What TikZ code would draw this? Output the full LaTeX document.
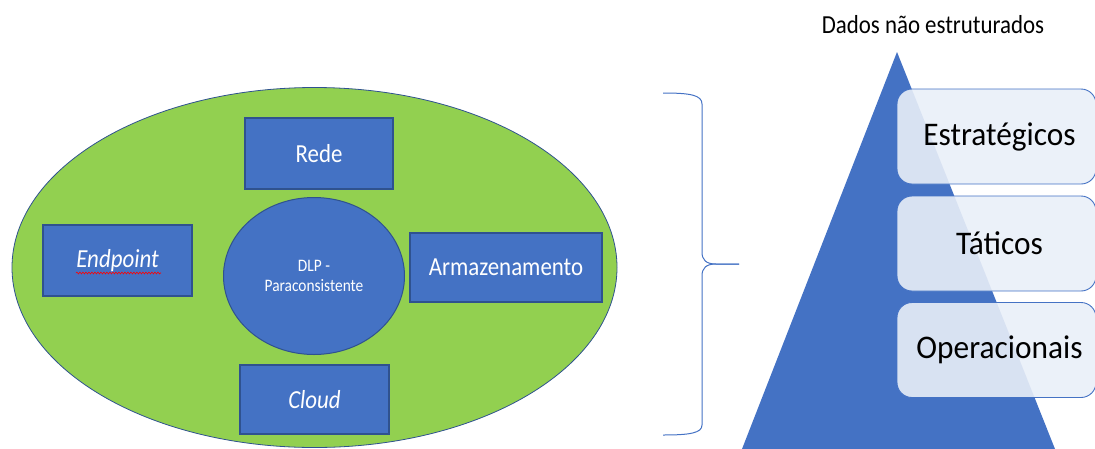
\documentclass[tikz,border=0pt]{standalone}
\usepackage{fontspec}
\setmainfont[FakeStretch=0.88]{Carlito}
\newfontfamily\tierfont[FakeStretch=0.95]{Carlito}
\usetikzlibrary{shapes.geometric,decorations.pathmorphing}
\definecolor{ablue}{HTML}{4472C4}
\definecolor{dblue}{HTML}{2F528F}
\definecolor{agreen}{HTML}{92D050}
\definecolor{lblue}{HTML}{E9EFF8}
\begin{document}
\begin{tikzpicture}[x=1pt,y=-1pt,
  bluebox/.style={draw=dblue, line width=1.3pt, fill=ablue, text=white,
    font=\fontsize{26}{30}\selectfont, inner sep=0pt, anchor=center},
  tierbox/.style={draw=ablue, line width=0.9pt, fill=lblue, fill opacity=0.9,
    text opacity=1, rounded corners=15pt, minimum width=199pt, minimum height=95pt,
    font=\tierfont\fontsize{33}{38}\selectfont, inner sep=0pt},
  bracestyle/.style={draw=ablue, line width=1pt}
]
\useasboundingbox (0,0) rectangle (1095,448);

% outer ellipse
\node[ellipse, draw=dblue, line width=0.8pt, fill=agreen,
  minimum width=605pt, minimum height=360pt] (outer) at (314.5,267.5) {};

% boxes
\node[bluebox, minimum width=148pt, minimum height=71pt] (rede) at (319,153.5) {Rede};
\node[bluebox, minimum width=149pt, minimum height=71pt] (endp) at (117.5,260.5) {\itshape Endpoint};
\node[bluebox, minimum width=192pt, minimum height=69pt] (arm) at (506,267.5) {Armazenamento};
\node[bluebox, minimum width=149pt, minimum height=69pt] (cloud) at (314.5,399.5) {\itshape Cloud};

% centre circle
\node[ellipse, draw=dblue, line width=1pt, fill=ablue, text=white, align=center,
  minimum width=181pt, minimum height=157pt, inner sep=0pt,
  font=\fontsize{17.5}{20}\selectfont] (dlp) at (314,276) {DLP -\\Paraconsistente};

% spell-check underline under Endpoint
\coordinate (u1) at (76,273);
\coordinate (u2) at (161,273);
\draw[red, line width=0.6pt, decorate,
  decoration={snake, amplitude=0.9pt, segment length=3pt}] (u1) -- (u2);

% brace
\coordinate (bt) at (663,93);
\coordinate (btip) at (739,264);
\coordinate (bb) at (663,435);
\draw[bracestyle] (bt) .. controls (690,93) and (702,95) .. (702,104)
  -- (702,252) .. controls (702,260) and (706,264) .. (716,264) -- (btip);
\draw[bracestyle] (btip) -- (716,264) .. controls (706,264) and (702,268) .. (702,276)
  -- (702,425) .. controls (702,433) and (690,435) .. (bb);

% pyramid
\coordinate (apex) at (897,52);
\coordinate (bl) at (742,449);
\coordinate (br) at (1055,449);
\fill[ablue] (apex) -- (bl) -- (br) -- cycle;

\node[font=\fontsize{26}{30}\selectfont] (dados) at (933,25) {Dados não estruturados};

\node[tierbox] (est) at (996.5,136.5) {\hspace*{6pt}Estratégicos};
\node[tierbox] (tat) at (996.5,243.5) {\hspace*{6pt}Táticos};
\node[tierbox] (ope) at (996.5,350) {\hspace*{6pt}Operacionais};
\end{tikzpicture}
\end{document}
